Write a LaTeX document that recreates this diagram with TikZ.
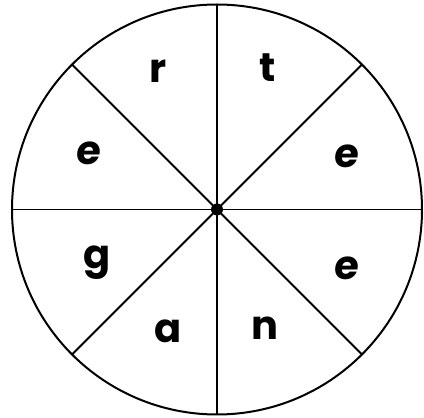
\documentclass[tikz,border=0pt]{standalone}
\usepackage{fontspec}
\setmainfont{Poppins}
\begin{document}
\begin{tikzpicture}[x=1pt,y=1pt,
  rim/.style={line width=2pt,black},
  spoke/.style={line width=1.8pt,black},
  letter/.style={anchor=base,inner sep=0pt,font=\fontsize{40}{40}\selectfont\bfseries},
  slanted/.style={xslant=0.1}]
\useasboundingbox (0,0) rectangle (424,418);
\coordinate (c) at (217,208.5);
\draw[rim] (c) circle (205);
\foreach \a in {0,45,...,315}{
  \draw[spoke] (c) -- ++(\a:205);
}
\fill (c) circle (6);
\node[letter] (r) at (158,335) {r};
\node[letter] (t) at (268,336) {t};
\node[letter,slanted] (e1) at (346,250) {e};
\node[letter,slanted] (e2) at (88,253) {e};
\node[letter] (g) at (97,149) {g};
\node[letter] (a) at (168,75) {a};
\node[letter] (n) at (265,78) {n};
\node[letter,slanted] (e3) at (346,138) {e};
\end{tikzpicture}
\end{document}
